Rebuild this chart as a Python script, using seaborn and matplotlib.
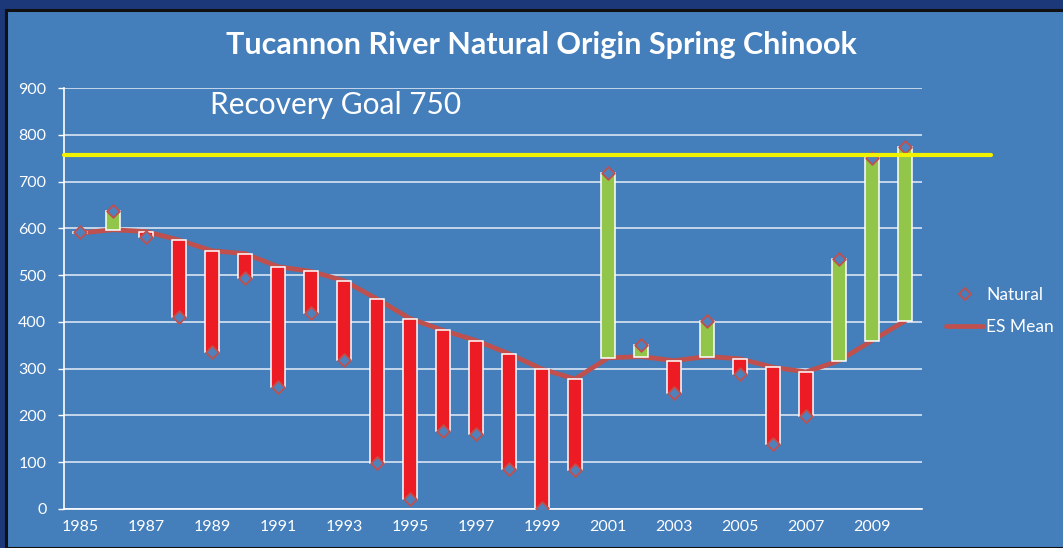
import numpy as np
import pandas as pd
import matplotlib
matplotlib.use("Agg")
import matplotlib.pyplot as plt
import seaborn as sns
from matplotlib.lines import Line2D
from matplotlib.patches import Rectangle

# ---------------- data ----------------
years = [1985, 1986, 1987, 1988, 1989, 1990, 1991, 1992, 1993, 1994, 1995, 1996, 1997,
         1998, 1999, 2000, 2001, 2002, 2003, 2004, 2005, 2006, 2007, 2008, 2009, 2010]
natural = [592, 636, 582, 410, 335, 493, 260, 418, 318, 98, 21, 166, 161,
           85, 3, 83, 718, 350, 248, 401, 289, 140, 198, 534, 750, 773]
es_mean = [590, 597, 593, 575, 552, 546, 518, 508, 488, 449, 407, 382, 360,
           332, 299, 278, 323, 326, 317, 326, 321, 303, 293, 317, 360, 402]
goal_line = 757
goal_label = "Recovery Goal 750"
title = "Tucannon River Natural Origin Spring Chinook"
y_ticks = [0, 100, 200, 300, 400, 500, 600, 700, 800, 900]

# ---------------- style ----------------
PANEL = "#447EBB"
NAVY = "#1D3878"
RED_BAR = "#ED1C24"
GREEN_BAR = "#92C64A"
LINE_RED = "#C0504D"
YELLOW = "#F2F200"

sns.set_theme(style="white")
plt.rcParams["font.family"] = ["Lato", "DejaVu Sans"]

W, H = 1063, 548
fig = plt.figure(figsize=(W / 100, H / 100), dpi=100, facecolor=NAVY)
fig.patches.append(Rectangle((6 / W, 0), 1.2, 1 - 10 / H, transform=fig.transFigure,
                             facecolor=PANEL, edgecolor="#111111", linewidth=2.2, zorder=0))

ax = fig.add_axes([63.5 / W, 1 - 509 / H, (921.5 - 63.5) / W, (509 - 88) / H])
ax.set_zorder(2)
ax.set_facecolor(PANEL)

df = pd.DataFrame({
    "year": [str(y) for y in years],
    "natural": natural,
    "mean": es_mean,
})
df["diff"] = df["natural"] - df["mean"]
order = df["year"].tolist()
pos = np.arange(len(df))

# ES mean line (behind bars)
sns.lineplot(x=pos, y=df["mean"].to_numpy(), color=LINE_RED, linewidth=3.4, ax=ax,
             zorder=1.5, legend=False)

# floating bars: from ES mean to natural count
for cond, col in [(df["diff"] < 0, RED_BAR), (df["diff"] >= 0, GREEN_BAR)]:
    sub = df[cond]
    sns.barplot(data=sub, x="year", y="diff", order=order, color=col,
                bottom=sub["mean"].to_numpy(), width=0.4, edgecolor="white",
                linewidth=1.1, errorbar=None, ax=ax, zorder=2, saturation=1)

# natural points
sns.scatterplot(x=pos, y=df["natural"].to_numpy(), marker="D", s=42,
                color="#4F81BD", edgecolor=LINE_RED, linewidth=1.3, ax=ax,
                zorder=5, legend=False)

# recovery goal line (extends beyond plot area)
ax.axhline(goal_line, xmin=0, xmax=(991 - 63.5) / (921.5 - 63.5), color=YELLOW,
           linewidth=3, clip_on=False, zorder=6)

ax.set_xlim(-0.5, len(df) - 0.5)
ax.set_ylim(0, 900)
ax.set_yticks(y_ticks)
ax.set_yticklabels([str(v) for v in y_ticks])
ax.set_xticks(pos[::2])
ax.set_xticklabels(order[::2])
ax.set_xlabel("")
ax.set_ylabel("")

ax.yaxis.grid(True, color="#E6EEF8", linewidth=1.1)
ax.xaxis.grid(False)
ax.set_axisbelow(True)
for s in ["top", "right"]:
    ax.spines[s].set_visible(False)
for s in ["left", "bottom"]:
    ax.spines[s].set_visible(True)
    ax.spines[s].set_color("white")
    ax.spines[s].set_linewidth(1.2)
ax.tick_params(axis="y", colors="white", labelsize=11.5, length=4.3, width=1, pad=8,
               direction="out", left=True)
ax.tick_params(axis="x", colors="white", labelsize=11.5, length=0, pad=8)

# texts
fig.text(541 / W, 1 - 45 / H, title, ha="center", va="center", color="white",
         fontsize=22, fontweight="bold")
fig.text(210 / W, 1 - 105 / H, goal_label, ha="left", va="center", color="white",
         fontsize=21.5)

# legend
handles = [
    Line2D([], [], linestyle="none", marker="D", markersize=6.5,
           markerfacecolor=PANEL, markeredgecolor=LINE_RED, markeredgewidth=1.3),
    Line2D([], [], color=LINE_RED, linewidth=3.4),
]
leg = ax.legend(handles, ["Natural", "ES Mean"], loc="center left",
                bbox_to_anchor=(946 / W, 1 - 311 / H), bbox_transform=fig.transFigure,
                frameon=False, fontsize=12.5, handlelength=2.15, handletextpad=0.15,
                labelspacing=0.95, borderaxespad=0, borderpad=0)
for t in leg.get_texts():
    t.set_color("white")

fig.savefig("out.png", dpi=100, facecolor=fig.get_facecolor())
